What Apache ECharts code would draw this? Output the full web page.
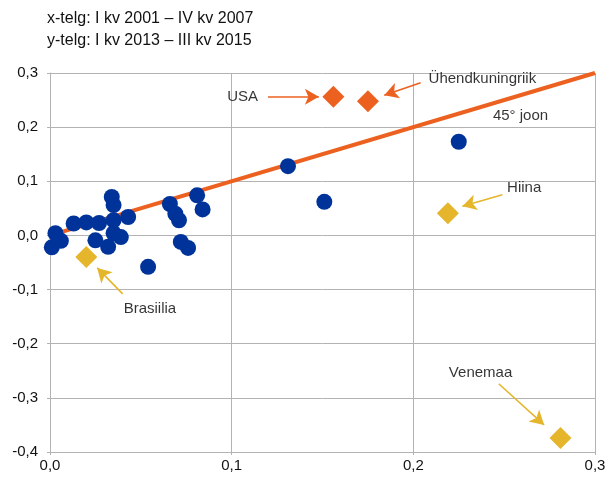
<!DOCTYPE html>
<html><head><meta charset="utf-8">
<script src="https://cdn.jsdelivr.net/npm/echarts@6/dist/echarts.min.js"></script>
<style>html,body{margin:0;padding:0;background:#fff}#c{width:611px;height:477px}</style>
</head><body><div id="c"></div>
<script>
// Blue dots: [x, y]
const dotsX = [0.003,0.001,0.006,0.013,0.020,0.025,0.027,0.032,0.034,0.035,0.035,0.035,0.039,0.043,0.054,0.066,0.069,0.071,0.072,0.076,0.081,0.084,0.131,0.151,0.225];
const dotsY = [0.004,-0.022,-0.010,0.022,0.024,-0.009,0.023,-0.021,0.071,0.056,0.028,0.004,-0.003,0.034,-0.058,0.058,0.040,0.028,-0.012,-0.023,0.074,0.048,0.128,0.062,0.173];
// Highlighted countries
const orangeNames = ["USA","Ühendkuningriik"];
const orangeX = [0.156,0.175];
const orangeY = [0.256,0.248];
const yellowNames = ["Brasiilia","Hiina","Venemaa"];
const yellowX = [0.020,0.219,0.281];
const yellowY = [-0.040,0.041,-0.374];
// 45 degree line
const lineX = [0.0,0.3];
const lineY = [0.0,0.3];
// Annotation labels (data coordinates)
const labelTexts = ["USA","Ühendkuningriik","Hiina","Brasiilia","Venemaa","45° joon"];
const labelX = [0.106,0.238,0.261,0.055,0.237,0.259];
const labelY = [0.256,0.289,0.088,-0.136,-0.254,0.221];
// Arrows: start and end in data coordinates
const arrowStartX = [0.120,0.204,0.249,0.040,0.247];
const arrowStartY = [0.256,0.282,0.075,-0.108,-0.274];
const arrowEndX = [0.148,0.184,0.227,0.026,0.272];
const arrowEndY = [0.256,0.259,0.054,-0.060,-0.350];
const arrowColors = ['#ec6120','#ec6120','#e5b52b','#e5b52b','#e5b52b'];
const xTicks = [0,0.1,0.2,0.3];
const yTicks = [-0.4,-0.3,-0.2,-0.1,0,0.1,0.2,0.3];

const FONT = 'Liberation Sans, Arial, sans-serif';
const fmt = v => v.toFixed(1).replace('.', ',');
const chart = echarts.init(document.getElementById('c'));
const arrowLines = arrowStartX.map((sx,i)=>[
  {coord:[sx,arrowStartY[i]], lineStyle:{color:arrowColors[i]}},
  {coord:[arrowEndX[i],arrowEndY[i]]}
]);
chart.setOption({
  animation:false,
  textStyle:{fontFamily:FONT},
  graphic:[{type:'text',left:47,top:8,style:{text:'x-telg: I kv 2001 – IV kv 2007\ny-telg: I kv 2013 – III kv 2015',fontSize:16,lineHeight:22,fill:'#111',fontFamily:FONT}}],
  grid:{left:50,right:16,top:73,bottom:25,containLabel:false},
  xAxis:{type:'value',min:0,max:0.3,interval:0.1,
    axisLine:{onZero:false,lineStyle:{color:'#b3b3b3'}},
    axisTick:{show:true,length:3,lineStyle:{color:'#b3b3b3'}},
    splitLine:{lineStyle:{color:'#b3b3b3'}},
    axisLabel:{color:'#111',fontSize:15,margin:6,formatter:v=>fmt(v)}},
  yAxis:{type:'value',min:-0.4,max:0.3,interval:0.1,
    axisLine:{show:true,onZero:false,lineStyle:{color:'#b3b3b3'}},
    axisTick:{show:true,length:3,lineStyle:{color:'#b3b3b3'}},
    splitLine:{lineStyle:{color:'#b3b3b3'}},
    axisLabel:{color:'#111',fontSize:15,margin:12,formatter:v=>fmt(v)}},
  series:[
    {type:'line',data:lineX.map((x,i)=>[x,lineY[i]]),symbol:'none',lineStyle:{color:'#ec6120',width:4},z:3,
     markLine:{silent:true,symbol:['none','arrow'],symbolSize:[12,14],label:{show:false},lineStyle:{width:1.6,type:'solid'},data:arrowLines}},
    {type:'scatter',data:dotsX.map((x,i)=>[x,dotsY[i]]),symbol:'circle',symbolSize:16,itemStyle:{color:'#003399',opacity:1},z:4},
    {type:'scatter',data:orangeX.map((x,i)=>[x,orangeY[i]]),symbol:'diamond',symbolSize:22,itemStyle:{color:'#ec6120',opacity:1},z:5},
    {type:'scatter',data:yellowX.map((x,i)=>[x,yellowY[i]]),symbol:'diamond',symbolSize:22,itemStyle:{color:'#e5b52b',opacity:1},z:5},
    {type:'scatter',data:labelX.map((x,i)=>({value:[x,labelY[i]],label:{formatter:labelTexts[i]}})),symbolSize:0,
     label:{show:true,position:'inside',color:'#000',fontSize:15,textBorderWidth:0,textBorderColor:'transparent'},z:6}
  ]
});
</script></body></html>
